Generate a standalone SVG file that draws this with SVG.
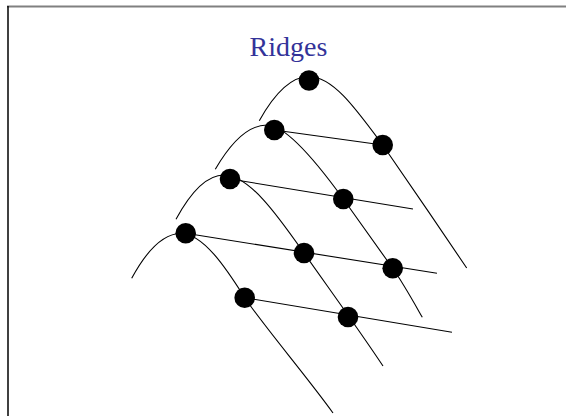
<svg xmlns="http://www.w3.org/2000/svg" width="566" height="416" viewBox="0 0 566 416">
<style>
.edge{fill:none;stroke:#000;stroke-width:1.1}
.dot{fill:#000}
.title{font-family:"Liberation Serif","Times New Roman",serif;font-size:28px;fill:#333399}
</style>
<rect x="0" y="0" width="566" height="416" fill="#fff"/>
<g id="frame">
<line x1="7" y1="6.5" x2="566" y2="6.5" stroke="#808080" stroke-width="2"/>
<line x1="8" y1="6" x2="8" y2="416" stroke="#000" stroke-width="1.5"/>
</g>
<text id="title" class="title" x="288.5" y="56" text-anchor="middle">Ridges</text>
<g id="connectors">
<path class="edge" d="M259.3,120.7 Q284,76.5 309,76.5 C333,76.5 356,109 382.7,145 C407,180 441,230 466.7,268"/>
<path class="edge" d="M215.3,169.3 Q241,125 267,125 C286,125 318,164 343.3,199 C361,223.5 377,246 392.7,268.3 C403,283 413,301 422.3,317.3"/>
<path class="edge" d="M176,219.3 Q200,175 224,175 C250,175 280,219 304,253 C330,290 357,327 383,366"/>
<path class="edge" d="M131.7,278.3 Q156,233.5 181,233.5 C203,233.5 226,268 244.7,297.7 C263,325 308,378 333,413"/>
<line class="edge" x1="274.3" y1="130" x2="382.7" y2="145"/>
<line class="edge" x1="230" y1="179" x2="413" y2="209"/>
<line class="edge" x1="185.7" y1="233.3" x2="437" y2="273.3"/>
<line class="edge" x1="244.7" y1="297.7" x2="452" y2="332.3"/>
</g>
<g id="n1"><circle class="dot" cx="309" cy="80.5" r="10.3"/></g>
<g id="n2"><circle class="dot" cx="274.3" cy="130" r="10.3"/></g>
<g id="n3"><circle class="dot" cx="382.7" cy="145" r="10.3"/></g>
<g id="n4"><circle class="dot" cx="230" cy="179" r="10.3"/></g>
<g id="n5"><circle class="dot" cx="343.3" cy="199" r="10.3"/></g>
<g id="n6"><circle class="dot" cx="185.7" cy="233.3" r="10.3"/></g>
<g id="n7"><circle class="dot" cx="304" cy="253" r="10.3"/></g>
<g id="n8"><circle class="dot" cx="392.7" cy="268.3" r="10.3"/></g>
<g id="n9"><circle class="dot" cx="244.7" cy="297.7" r="10.3"/></g>
<g id="n10"><circle class="dot" cx="348" cy="317" r="10.3"/></g>
</svg>
